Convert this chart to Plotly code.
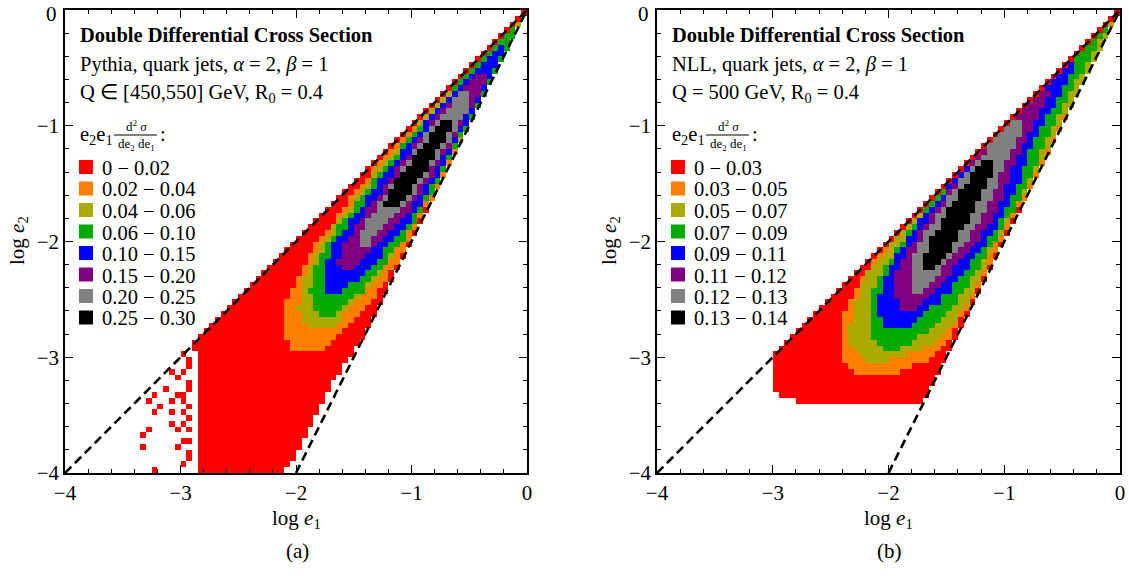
import numpy as np
import plotly.graph_objects as go

FONT = "Liberation Serif"
W, H = 1129, 578

# ---------------- data ----------------
colors = ["#FF0000", "#FF8000", "#AAAA00", "#00AA00", "#0000FF", "#800080", "#808080", "#000000"]
labels_a = ["0 − 0.02", "0.02 − 0.04", "0.04 − 0.06", "0.06 − 0.10",
            "0.10 − 0.15", "0.15 − 0.20", "0.20 − 0.25", "0.25 − 0.30"]
labels_b = ["0 − 0.03", "0.03 − 0.05", "0.05 − 0.07", "0.07 − 0.09",
            "0.09 − 0.11", "0.11 − 0.12", "0.12 − 0.13", "0.13 − 0.14"]
ticks = [-4, -3, -2, -1, 0]
tick_text = ["−4", "−3", "−2", "−1", "0"]

# Panel (a): outer region of the lowest bin (polygon vertices)
a_red_x = [-0.01, -2.91, -2.87, -2.87, -2.09, -1.93, -1.77, -1.59, -1.40, 0.0]
a_red_y = [0.0, -2.90, -2.95, -4.0, -4.0, -3.73, -3.37, -3.08, -2.80, 0.0]
# Panel (a): higher bins, rows (y, x_left, x_right)
a_y2 = [-2.97, -2.95, -2.8, -2.6, -2.4, -2.2, -2.0, -1.8, -1.6, -1.4, -1.2, -1.0, -0.8, -0.6, -0.4, -0.2, -0.05]
a_l2 = [-1.95, -2.04, -2.10, -2.12, -2.02, -1.93, -1.83, -1.65, -1.51, -1.35, -1.17, -0.975, -0.78, -0.585, -0.39, -0.195, -0.05]
a_r2 = [-1.87, -1.80, -1.64, -1.42, -1.26, -1.14, -1.02, -0.918, -0.808, -0.71, -0.60, -0.50, -0.40, -0.30, -0.20, -0.10, -0.03]
a_y3 = [-2.77, -2.75, -2.6, -2.4, -2.2, -2.0, -1.8, -1.6, -1.4, -1.2, -1.0, -0.8, -0.6, -0.4, -0.2, -0.12]
a_l3 = [-1.80, -1.90, -1.98, -1.96, -1.88, -1.78, -1.62, -1.46, -1.31, -1.13, -0.95, -0.765, -0.57, -0.38, -0.185, -0.115]
a_r3 = [-1.74, -1.66, -1.56, -1.38, -1.21, -1.08, -0.954, -0.832, -0.721, -0.612, -0.505, -0.404, -0.303, -0.202, -0.105, -0.07]
a_y4 = [-2.64, -2.6, -2.4, -2.2, -2.0, -1.8, -1.6, -1.4, -1.2, -1.0, -0.8, -0.6, -0.4, -0.2, -0.15]
a_l4 = [-1.75, -1.84, -1.88, -1.83, -1.73, -1.57, -1.42, -1.27, -1.10, -0.925, -0.745, -0.555, -0.36, -0.17, -0.13]
a_r4 = [-1.68, -1.60, -1.40, -1.24, -1.09, -0.95, -0.83, -0.728, -0.618, -0.51, -0.408, -0.309, -0.21, -0.11, -0.09]
a_y5 = [-2.46, -2.4, -2.2, -2.0, -1.8, -1.6, -1.4, -1.2, -1.0, -0.8, -0.6, -0.4, -0.3]
a_l5 = [-1.70, -1.76, -1.75, -1.67, -1.51, -1.37, -1.22, -1.06, -0.90, -0.725, -0.534, -0.33, -0.25]
a_r5 = [-1.64, -1.56, -1.33, -1.17, -1.00, -0.872, -0.749, -0.65, -0.535, -0.42, -0.318, -0.22, -0.19]
a_y6 = [-2.24, -2.2, -2.0, -1.8, -1.6, -1.4, -1.2, -1.0, -0.8, -0.6, -0.56]
a_l6 = [-1.60, -1.64, -1.58, -1.43, -1.29, -1.15, -1.002, -0.855, -0.688, -0.495, -0.46]
a_r6 = [-1.52, -1.46, -1.25, -1.06, -0.928, -0.80, -0.68, -0.57, -0.45, -0.34, -0.36]
a_y7 = [-2.06, -2.0, -1.8, -1.6, -1.4, -1.2, -1.0, -0.8, -0.72]
a_l7 = [-1.46, -1.48, -1.368, -1.24, -1.106, -0.972, -0.825, -0.652, -0.58]
a_r7 = [-1.38, -1.36, -1.16, -0.98, -0.84, -0.72, -0.59, -0.47, -0.50]
a_y8 = [-1.70, -1.6, -1.4, -1.2, -1.0, -0.96]
a_l8 = [-1.27, -1.20, -1.08, -0.93, -0.77, -0.73]
a_r8 = [-1.12, -1.03, -0.89, -0.76, -0.66, -0.67]
# Panel (a): isolated low-statistics cells (cell centres)
a_spot_x = [-3.225, -3.325, -3.025, -2.925, -2.975, -3.275, -3.325, -3.075, -3.025, -2.975,
            -2.925, -3.175, -3.225, -3.275, -3.225, -3.125, -3.075, -3.075, -3.025, -3.025,
            -2.975, -3.075, -2.925, -2.975, -2.925, -2.925, -2.925, -2.925, -2.975, -2.925,
            -2.975, -2.975, -2.925, -2.925, -2.975]
a_spot_y = [-3.975, -3.775, -3.775, -3.825, -3.925, -3.625, -3.675, -3.575, -3.625, -3.575,
            -3.625, -3.425, -3.475, -3.375, -3.325, -3.275, -3.375, -3.475, -3.325, -3.175,
            -3.125, -3.125, -3.075, -2.975, -3.025, -3.225, -3.275, -3.425, -3.475, -3.525,
            -3.325, -3.375, -3.725, -3.875, -3.725]

# Panel (b)
b_red_x = [-0.01, -2.96, -2.99, -2.99, -2.94, -2.76, -1.69, 0.0]
b_red_y = [0.0, -2.95, -3.0, -3.28, -3.34, -3.38, -3.38, 0.0]
b_y2 = [-3.17, -3.15, -3.0, -2.8, -2.6, -2.4, -2.2, -2.0, -1.6, -1.2, -0.8, -0.4, -0.1, -0.03]
b_l2 = [-2.20, -2.30, -2.39, -2.41, -2.37, -2.28, -2.156, -1.97, -1.575, -1.18, -0.785, -0.39, -0.095, -0.03]
b_r2 = [-2.02, -1.95, -1.60, -1.45, -1.33, -1.22, -1.133, -1.02, -0.81, -0.605, -0.402, -0.201, -0.05, -0.016]
b_y3 = [-3.03, -2.9, -2.7, -2.5, -2.3, -2.1, -1.9, -1.5, -1.0, -0.5, -0.1, -0.04]
b_l3 = [-2.20, -2.33, -2.33, -2.27, -2.20, -2.045, -1.87, -1.48, -0.99, -0.495, -0.098, -0.035]
b_r3 = [-2.02, -1.62, -1.43, -1.30, -1.20, -1.124, -0.998, -0.78, -0.515, -0.255, -0.051, -0.02]
b_y4 = [-2.93, -2.8, -2.6, -2.4, -2.2, -2.0, -1.8, -1.6, -1.4, -1.2, -1.0, -0.8, -0.6, -0.4, -0.2, -0.15]
b_l4 = [-2.05, -2.17, -2.17, -2.13, -2.02, -1.89, -1.746, -1.568, -1.379, -1.182, -0.985, -0.784, -0.585, -0.38, -0.18, -0.14]
b_r4 = [-1.90, -1.70, -1.47, -1.33, -1.21, -1.08, -0.963, -0.848, -0.756, -0.672, -0.58, -0.48, -0.366, -0.25, -0.13, -0.11]
b_y5 = [-2.77, -2.6, -2.4, -2.2, -2.0, -1.8, -1.6, -1.4, -1.2, -1.0, -0.8, -0.6, -0.46]
b_l5 = [-2.02, -2.10, -2.06, -1.98, -1.85, -1.71, -1.544, -1.365, -1.176, -0.98, -0.78, -0.576, -0.44]
b_r5 = [-1.88, -1.65, -1.45, -1.298, -1.15, -1.026, -0.92, -0.84, -0.768, -0.665, -0.56, -0.45, -0.38]
b_y6 = [-2.59, -2.4, -2.2, -2.0, -1.8, -1.6, -1.4, -1.2, -1.0, -0.8, -0.68]
b_l6 = [-1.88, -1.98, -1.903, -1.78, -1.647, -1.504, -1.344, -1.164, -0.975, -0.776, -0.66]
b_r6 = [-1.74, -1.58, -1.408, -1.24, -1.098, -1.008, -0.938, -0.858, -0.75, -0.648, -0.61]
b_y7 = [-2.43, -2.2, -2.0, -1.8, -1.6, -1.4, -1.2, -1.0, -0.93]
b_l7 = [-1.78, -1.815, -1.72, -1.602, -1.464, -1.323, -1.152, -0.965, -0.90]
b_r7 = [-1.69, -1.518, -1.34, -1.206, -1.104, -1.015, -0.93, -0.84, -0.85]
b_y8 = [-2.25, -2.2, -2.0, -1.8, -1.6, -1.4, -1.3]
b_l8 = [-1.68, -1.72, -1.64, -1.53, -1.40, -1.26, -1.16]
b_r8 = [-1.60, -1.56, -1.42, -1.31, -1.20, -1.09, -1.07]

# bin centres of the histogram grid
cell = 0.05
xc = np.round(np.arange(-4 + cell / 2, 0, cell), 4)
yc = np.round(np.arange(-4 + cell / 2, 0, cell), 4)


def inside(px, py, vx, vy):
    res = np.zeros(px.shape, dtype=bool)
    n = len(vx)
    j = n - 1
    for i in range(n):
        xi, yi, xj, yj = vx[i], vy[i], vx[j], vy[j]
        crosses = (yi > py) != (yj > py)
        denom = (yj - yi) if yj != yi else 1e-12
        xint = (xj - xi) * (py - yi) / denom + xi
        res ^= crosses & (px < xint)
        j = i
    return res


def build(red_x, red_y, rows, spots=None):
    PX, PY = np.meshgrid(xc, yc)
    z = np.full(PX.shape, np.nan)
    z[inside(PX, PY, red_x, red_y)] = 1
    if spots is not None:
        for sx, sy in zip(*spots):
            ix = int(np.argmin(np.abs(xc - sx)))
            iy = int(np.argmin(np.abs(yc - sy)))
            z[iy, ix] = 1
    for k, (ys, xl, xr) in enumerate(rows, start=2):
        vx = list(xl) + list(xr)[::-1]
        vy = list(ys) + list(ys)[::-1]
        z[inside(PX, PY, vx, vy)] = k
    return z


za = build(a_red_x, a_red_y,
           [(a_y2, a_l2, a_r2), (a_y3, a_l3, a_r3), (a_y4, a_l4, a_r4), (a_y5, a_l5, a_r5),
            (a_y6, a_l6, a_r6), (a_y7, a_l7, a_r7), (a_y8, a_l8, a_r8)],
           spots=(a_spot_x, a_spot_y))
zb = build(b_red_x, b_red_y,
           [(b_y2, b_l2, b_r2), (b_y3, b_l3, b_r3), (b_y4, b_l4, b_r4), (b_y5, b_l5, b_r5),
            (b_y6, b_l6, b_r6), (b_y7, b_l7, b_r7), (b_y8, b_l8, b_r8)])

cs = []
for i, c in enumerate(colors):
    cs.append([i / 8, c])
    cs.append([(i + 1) / 8, c])

fig = go.Figure()
for z, xa, ya in [(za, "x", "y"), (zb, "x2", "y2")]:
    fig.add_trace(go.Heatmap(x=xc, y=yc, z=z, zmin=0.5, zmax=8.5, colorscale=cs,
                             showscale=False, xaxis=xa, yaxis=ya, hoverinfo="skip"))
    # kinematic boundaries: log e2 = log e1 and log e2 = 2 log e1
    fig.add_trace(go.Scatter(x=[-4, 0], y=[-4, 0], mode="lines", xaxis=xa, yaxis=ya,
                             line=dict(color="black", width=2.6, dash="9px,5px"), showlegend=False))
    fig.add_trace(go.Scatter(x=[-2, 0], y=[-4, 0], mode="lines", xaxis=xa, yaxis=ya,
                             line=dict(color="black", width=2.6, dash="9px,5px"), showlegend=False))

axis_common = dict(range=[-4, 0], tickvals=ticks, ticks="inside", ticklen=8, tickwidth=1.2,
                   tickcolor="black", showline=True, linecolor="black", linewidth=1.5,
                   mirror="allticks", showgrid=False, zeroline=False, automargin=False,
                   ticklabeloverflow="allow",
                   tickfont=dict(family=FONT, size=21, color="black"),
                   minor=dict(ticks="inside", ticklen=4, tickwidth=1, dtick=0.2, tick0=0,
                              tickcolor="black", showgrid=False))
# top label "0" of the y axes is written separately so that it stays inside the page
y_text = tick_text[:-1] + [""]

yd = [1 - 473 / H, 1 - 10 / H]
fig.update_layout(
    width=W, height=H, margin=dict(l=0, r=0, t=0, b=0, autoexpand=False),
    paper_bgcolor="white", plot_bgcolor="white", showlegend=False,
    xaxis=dict(domain=[65 / W, 527 / W], anchor="y", ticktext=tick_text, **axis_common),
    yaxis=dict(domain=yd, anchor="x", ticktext=y_text, **axis_common),
    xaxis2=dict(domain=[657 / W, 1120 / W], anchor="y2", ticktext=tick_text, **axis_common),
    yaxis2=dict(domain=yd, anchor="x2", ticktext=y_text, **axis_common),
)

ann = []
shapes = []


def A(px, py, text, size=20.5, xanchor="left", angle=0, yanchor="middle"):
    ann.append(dict(x=px / W, y=1 - py / H, xref="paper", yref="paper", text=text,
                    showarrow=False, xanchor=xanchor, yanchor=yanchor, textangle=angle,
                    font=dict(family=FONT, size=size, color="black")))


panels = [
    (0, "Pythia, quark jets, <i>α</i> = 2, <i>β</i> = 1", "Q ∈ [450,550] GeV, R<sub>0</sub> = 0.4", labels_a, "(a)"),
    (592, "NLL, quark jets, <i>α</i> = 2, <i>β</i> = 1", "Q = 500 GeV, R<sub>0</sub> = 0.4", labels_b, "(b)"),
]
for dx, l1, l2, labs, tag in panels:
    A(78 + dx, 35, "<b>Double Differential Cross Section</b>")
    A(78 + dx, 64, l1)
    A(78 + dx, 93, l2)
    A(78 + dx, 135, "e<sub>2</sub>e<sub>1</sub>")
    A(136 + dx, 126, "d<sup>2</sup> <i>σ</i>", size=13, xanchor="center")
    A(136 + dx, 144, "de<sub>2</sub> de<sub>1</sub>", size=13, xanchor="center")
    A(158 + dx, 134, ":")
    shapes.append(dict(type="line", xref="paper", yref="paper",
                       x0=(114 + dx) / W, x1=(157 + dx) / W, y0=1 - 135 / H, y1=1 - 135 / H,
                       line=dict(color="black", width=1)))
    for i, (lab, col) in enumerate(zip(labs, colors)):
        yy = 167 + 21.5 * i
        shapes.append(dict(type="rect", xref="paper", yref="paper",
                           x0=(79 + dx) / W, x1=(93 + dx) / W,
                           y0=1 - (yy + 7) / H, y1=1 - (yy - 7) / H,
                           fillcolor=col, line=dict(width=0)))
        A(100 + dx, yy + 1, lab, size=20.5)
    A(296 + dx, 519, "log <i>e</i><sub>1</sub>", size=21, xanchor="center")
    A(18 + dx, 241, "log <i>e</i><sub>2</sub>", size=21, xanchor="center", angle=-90)
    A(297 + dx, 551, tag, size=21, xanchor="center")
    A(59 + dx, 0, tick_text[-1], size=21, xanchor="right", yanchor="top")

fig.update_layout(annotations=ann, shapes=shapes)
fig.write_html("out.html", config={"responsive": False},
               post_script="document.body.style.margin='0px';document.body.style.overflow='hidden';")
